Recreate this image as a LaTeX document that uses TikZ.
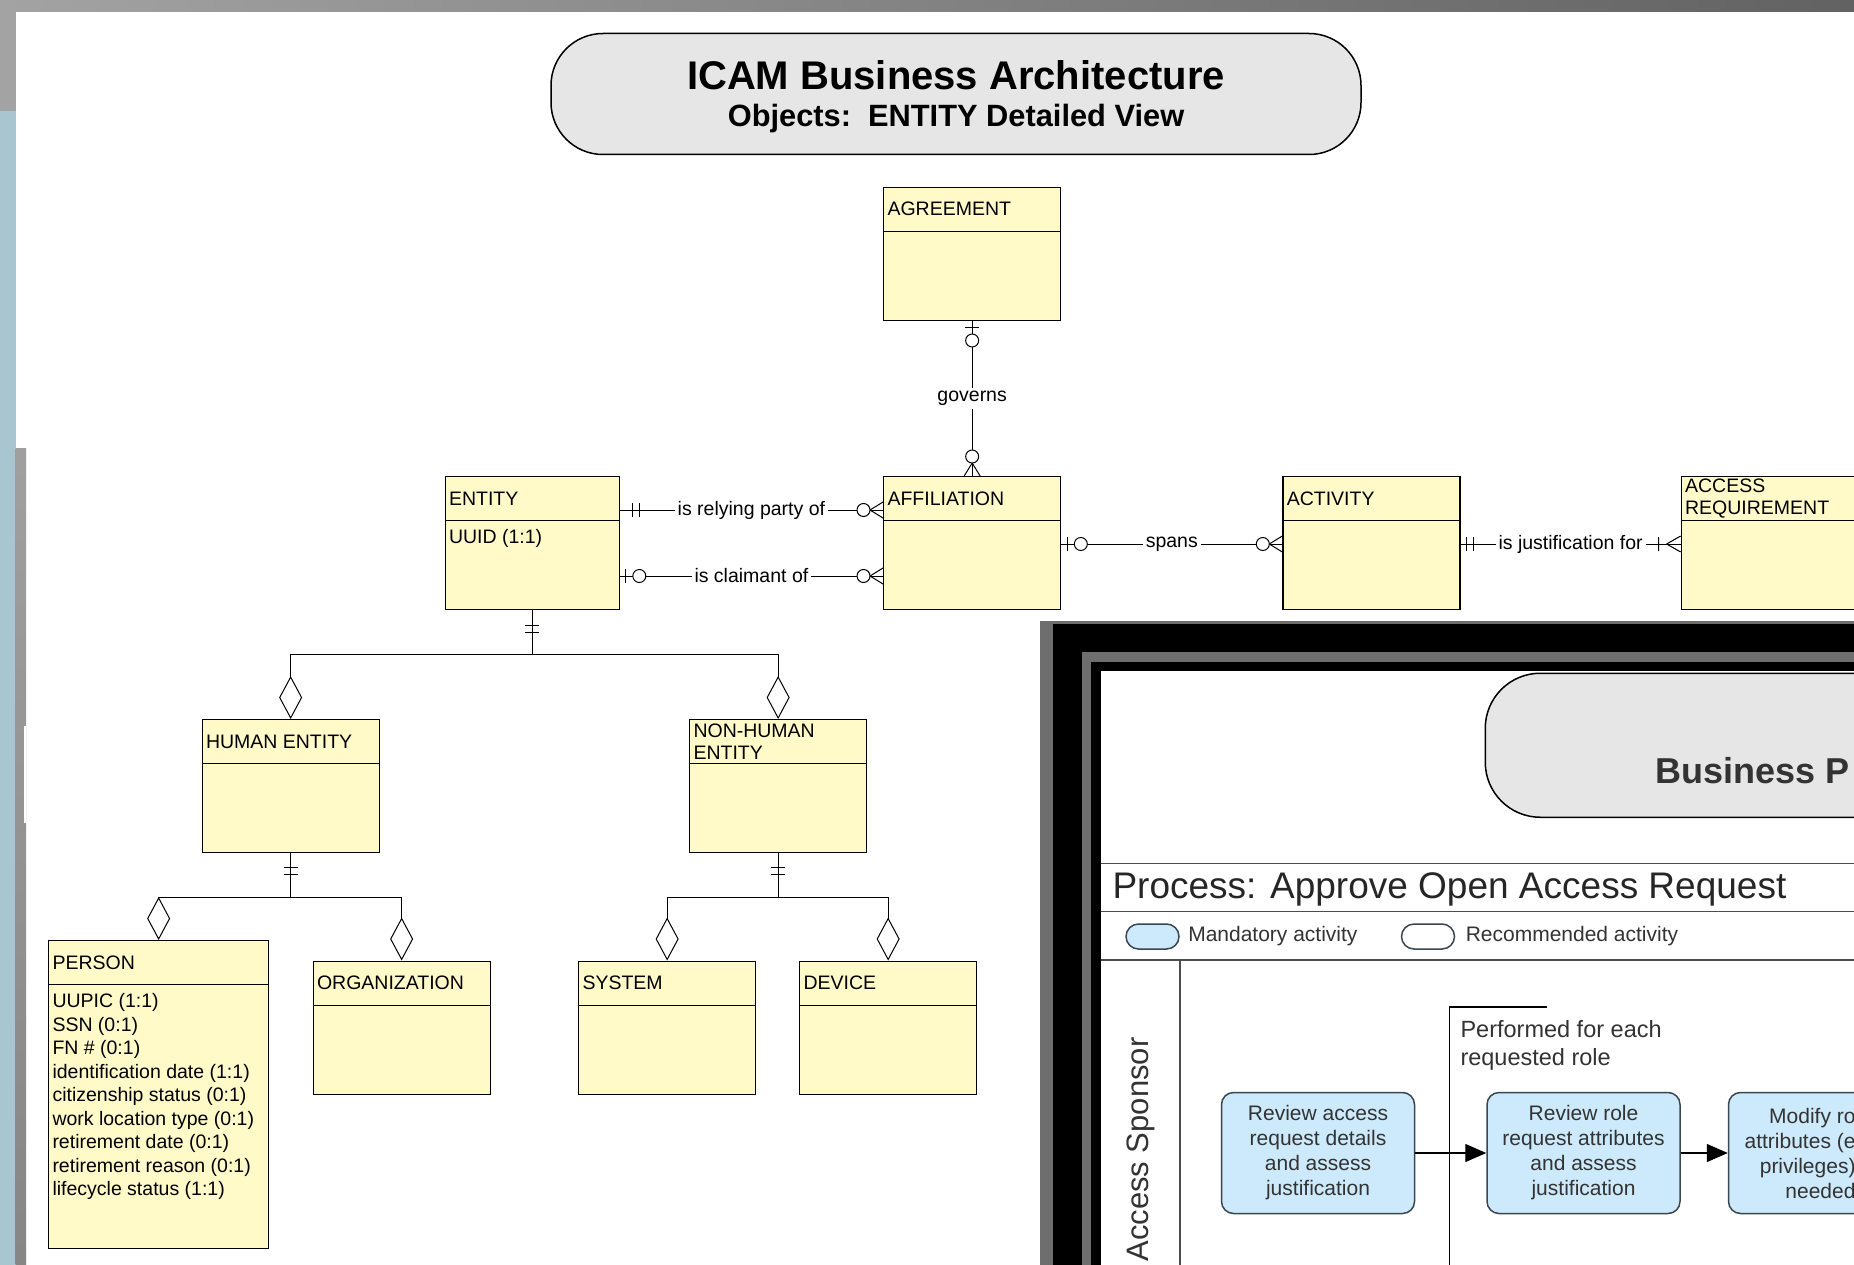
\documentclass[tikz,border=0pt]{standalone}
\usepackage{fontspec}
\setmainfont{Liberation Sans}
\usetikzlibrary{arrows.meta,positioning,decorations.markings}

\definecolor{entfill}{HTML}{FFFAC8}
\definecolor{bannerfill}{HTML}{E6E6E6}
\definecolor{actfill}{HTML}{CCEAFB}
\definecolor{actline}{HTML}{3A4650}
\definecolor{lanegray}{HTML}{4D4D4D}
\definecolor{framegray}{HTML}{6E6E6E}
\definecolor{sideblue}{HTML}{A8C5D0}
\definecolor{barlight}{HTML}{A3A3A3}
\definecolor{bardark}{HTML}{626262}
\definecolor{txtgray}{HTML}{333333}

\newcommand\erfont{\fontsize{19.5}{22}\selectfont}
\newcommand\actfont{\fontsize{21}{25}\selectfont}

\begin{document}
\begin{tikzpicture}[
  x=1pt, y=-1pt, line width=1pt,
  ent/.style={draw, line width=1.3pt, fill=entfill, anchor=north west, inner sep=0pt,
    minimum width=177pt, minimum height=133pt,
    path picture={\draw[line width=1.3pt] ([yshift=-44pt]path picture bounding box.north west) -- ([yshift=-44pt]path picture bounding box.north east);}},
  hd/.style={anchor=north west, minimum height=44pt, inner xsep=4pt, inner ysep=0pt, align=left, font=\erfont},
  attr/.style={anchor=north west, yshift=-53pt, inner xsep=4pt, inner ysep=0pt, align=left, font=\fontsize{19.5}{23.5}\selectfont},
  rel/.style={fill=white, inner sep=3pt, font=\erfont},
  mk/.style={postaction={arrows=-, decorate, decoration={markings, #1}}},
  onlyone/.style={mk={mark=at position #1 with {\draw (0pt,-7pt) -- (0pt,7pt) (7pt,-7pt) -- (7pt,7pt);}}},
  zeroone/.style={mk={mark=at position 6pt with {\draw (0pt,-7pt) -- (0pt,7pt); \draw[fill=white] (13.5pt,0pt) circle (6.5pt);}}},
  zeromany/.style={mk={mark=at position -13pt with {\draw (0pt,0pt) -- (13pt,8pt) (0pt,0pt) -- (13pt,-8pt); \draw[fill=white] (-6.5pt,0pt) circle (6.5pt);}}},
  onemany/.style={mk={mark=at position -14pt with {\draw (0pt,0pt) -- (14pt,8pt) (0pt,0pt) -- (14pt,-8pt) (-8pt,-7pt) -- (-8pt,7pt);}}},
  isa/.style={-{Diamond[open, length=43pt, width=23pt]}},
  banner/.style={draw, line width=1.5pt, fill=bannerfill, rounded corners=52pt, minimum width=810pt, minimum height=121pt},
  lane/.style={draw=lanegray, line width=1.5pt},
  oval/.style={draw=actline, line width=1.5pt, rounded corners=12.5pt, minimum width=53pt, minimum height=25pt},
  legtxt/.style={inner sep=0pt, font=\actfont, text=txtgray},
  act/.style={draw=actline, line width=1.5pt, fill=actfill, rounded corners=12pt, minimum width=193pt, minimum height=121pt,
    align=center, font=\actfont, text=txtgray, inner sep=0pt},
  flow/.style={-{Triangle[length=21pt, width=18pt]}, line width=1.3pt},
]
  \useasboundingbox (0,0) rectangle (1854,1265);
  \clip (0,0) rectangle (1854,1265);

  % slide background
  \fill[white] (0,0) rectangle (1854,1265);
  \shade[left color=barlight, right color=bardark] (0,0) rectangle (1854,12);
  \fill[barlight] (0,0) rectangle (16,111);
  \fill[sideblue] (0,111) rectangle (15.5,1265);
  \shade[top color=gray!75, bottom color=gray!95] (15.5,448) rectangle (26,1265);
  \fill[white] (24,726) rectangle (26,823);

  \node[banner] (banner) at (956,94) {};
  \node[anchor=base, inner sep=0pt, font=\fontsize{40}{44}\selectfont\bfseries] (title) at (956,89.5) {ICAM Business Architecture};
  \node[anchor=base, inner sep=0pt, font=\fontsize{30.8}{34}\selectfont\bfseries] (subtitle) at (956,126.5) {Objects:\ \ ENTITY Detailed View};

  % entities
  \node[ent, label={[hd]north west:AFFILIATION}] (aff) at (883,476) {};
  \node[ent, above=155pt of aff, label={[hd]north west:AGREEMENT}] (agree) {};
  \node[ent, right=221pt of aff, label={[hd]north west:ACTIVITY}] (act) {};
  \node[ent, right=220pt of act, label={[hd]north west:ACCESS\\REQUIREMENT}] (accreq) {};
  \node[ent, minimum width=174pt, label={[hd]north west:ENTITY}, label={[attr]north west:{UUID (1:1)}}] (entity) at (444.5,476) {};
  \node[ent, label={[hd]north west:HUMAN ENTITY}] (hum) at (201.5,719) {};
  \node[ent, label={[hd]north west:NON-HUMAN\\ENTITY}] (nhum) at (689,719) {};
  \node[ent, minimum width=220pt, minimum height=308pt, label={[hd]north west:PERSON},
    label={[attr]north west:{UUPIC (1:1)\\SSN (0:1)\\FN \# (0:1)\\identification date (1:1)\\citizenship status (0:1)\\work location type (0:1)\\retirement date (0:1)\\retirement reason (0:1)\\lifecycle status (1:1)}}] (pers) at (48,940) {};
  \node[ent, label={[hd]north west:ORGANIZATION}] (org) at (312.5,960.5) {};
  \node[ent, label={[hd]north west:SYSTEM}] (sys) at (578,960.5) {};
  \node[ent, label={[hd]north west:DEVICE}] (dev) at (799,960.5) {};

  % relationships
  \draw[zeroone, zeromany] (agree.south) -- node[rel]{governs} (aff.north);
  \draw[onlyone=13pt, zeromany] ([yshift=-34pt]entity.north east) -- node[rel]{is relying party of} ([yshift=-34pt]aff.north west);
  \draw[zeroone, zeromany] ([yshift=-100pt]entity.north east) -- node[rel]{is claimant of} ([yshift=-100pt]aff.north west);
  \draw[zeroone, zeromany] ([yshift=-68pt]aff.north east) -- node[rel]{spans} ([yshift=-68pt]act.north west);
  \draw[onlyone=6pt, onemany] ([yshift=-68pt]act.north east) -- node[rel]{is justification for} ([yshift=-68pt]accreq.north west);

  \coordinate (bus1) at ([yshift=-44pt]entity.south);
  \draw[onlyone=15pt] (entity.south) -- (bus1);
  \draw[isa] (bus1) -| (hum.north);
  \draw[isa] (bus1) -| (nhum.north);
  \coordinate (bus2) at ([yshift=-44pt]hum.south);
  \draw[onlyone=14.5pt] (hum.south) -- (bus2);
  \draw[isa] (bus2) -| (pers.north);
  \draw[isa] (bus2) -| (org.north);
  \coordinate (bus3) at ([yshift=-44pt]nhum.south);
  \draw[onlyone=14.5pt] (nhum.south) -- (bus3);
  \draw[isa] (bus3) -| (sys.north);
  \draw[isa] (bus3) -| (dev.north);

  % embedded process slide
  \fill[framegray] (1040,621) rectangle (1860,1270);
  \fill[black] (1053,623.5) rectangle (1860,1270);
  \fill[framegray] (1082,652) rectangle (1860,1270);
  \fill[black] (1091,662) rectangle (1860,1270);
  \fill[white] (1101,671) rectangle (1860,1270);

  \node[banner, anchor=north west, minimum width=450pt, minimum height=144pt, rounded corners=55pt] (bpbox) at (1484.5,672.5) {};
  \node[anchor=base west, inner sep=0pt, font=\fontsize{36}{40}\selectfont\bfseries, text=txtgray] (bptitle) at (1655,783) {Business P};

  \draw[lane] (1101,863.5) -- (1860,863.5);
  \node[anchor=base west, inner sep=0pt, font=\fontsize{37}{40}\selectfont, text=black!85] (proc) at (1112,898) {Process: Approve Open Access Request};
  \draw[lane] (1101,911.5) -- (1860,911.5);
  \node[oval, fill=actfill] (mand) at (1152.5,936.5) {};
  \node[legtxt, right=8pt of mand] (mandtxt) {Mandatory activity};
  \node[oval, fill=white] (recm) at (1428,936.5) {};
  \node[legtxt, right=10pt of recm] (recmtxt) {Recommended activity};
  \draw[lane] (1101,960) -- (1860,960);
  \draw[lane] (1180,960) -- (1180,1270);
  \node[rotate=90, anchor=base east, inner sep=0pt, font=\fontsize{31}{36}\selectfont, text=txtgray] (sponsor) at (1148,1037) {Access Sponsor};

  \coordinate (loopb) at (1449.5,1270);
  \coordinate (loopt) at (1449.5,1007);
  \draw[line width=1.3pt] (loopb) -- (loopt) -- ++(97,0);
  \node[anchor=north west, inner sep=0pt, align=left, font=\fontsize{23.5}{28}\selectfont, text=txtgray] (perf) at (1460,1020) {Performed for each\\requested role};

  \node[act] (rev1) at (1318,1153) {Review access\\request details\\and assess\\justification};
  \node[act, right=71pt of rev1] (rev2) {Review role\\request attributes\\and assess\\justification};
  \node[act, right=47pt of rev2] (mod) {};
  \node[anchor=east, align=right, inner sep=0pt, font=\actfont, text=txtgray] (modtxt) at (1856,1153) {Modify ro\\attributes (e\\privileges)\\needed};

  \draw[flow] (rev1) -- (rev2);
  \draw[flow] (rev2) -- (mod);
\end{tikzpicture}
\end{document}
